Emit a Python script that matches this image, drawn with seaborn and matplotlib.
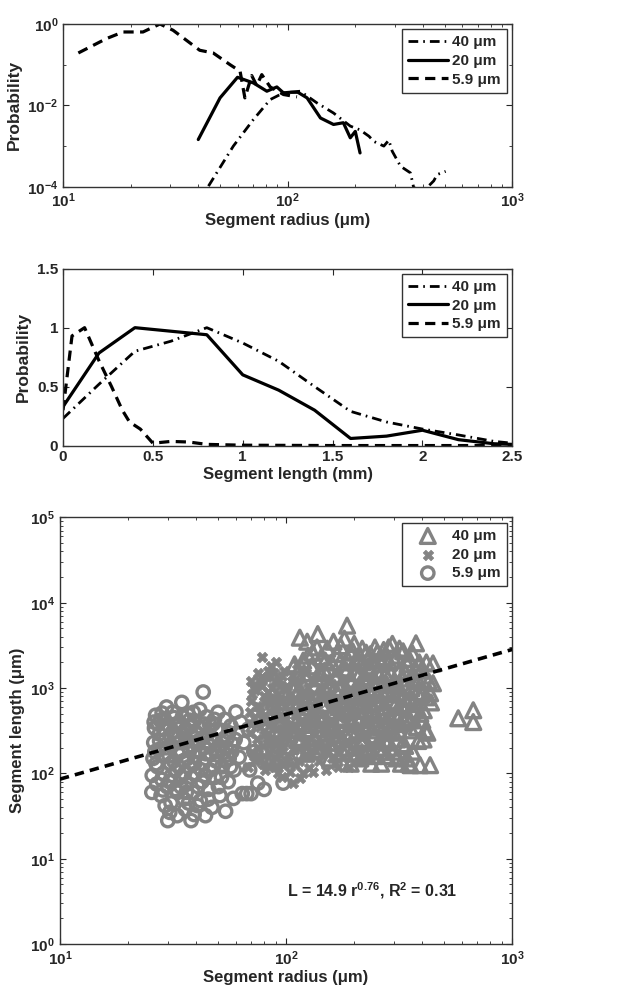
import numpy as np
import pandas as pd
import matplotlib
matplotlib.use('Agg')
import matplotlib.pyplot as plt
import matplotlib.ticker as mticker
import seaborn as sns

sns.set_style('ticks')
plt.rcParams['font.family'] = ['Liberation Sans', 'DejaVu Sans']
plt.rcParams['font.weight'] = 'bold'
plt.rcParams['axes.labelweight'] = 'bold'
plt.rcParams['mathtext.fontset'] = 'custom'
plt.rcParams['mathtext.rm'] = 'Liberation Sans:bold'
plt.rcParams['mathtext.bf'] = 'Liberation Sans:bold'
plt.rcParams['mathtext.default'] = 'bf'

GRAY = '#838383'

# ---------------------------------------------------------
# Panel A: radius distributions (log-log)
# ---------------------------------------------------------
radius_40 = [44.4, 57.3, 70.4, 83.6, 95.8, 113.8, 135, 160, 190, 210, 230, 242,
             268, 282, 292, 318, 352, 364, 404, 447, 463, 505]
prob_r_40 = [1.04e-4, 1e-3, 4.5e-3, 0.0139, 0.0203, 0.0223, 0.0115, 6.5e-3, 3.1e-3,
             2.5e-3, 1.75e-3, 1.3e-3, 1e-3, 1.4e-3, 7.5e-4, 3.2e-4, 2.2e-4, 9.5e-5,
             8e-5, 1.4e-4, 2e-4, 2.4e-4]

radius_20 = [40.0, 50.0, 59.8, 70.4, 80.8, 89.5, 95.8, 102.6, 111, 122, 140, 160,
             177, 190, 200, 210]
prob_r_20 = [1.45e-3, 0.0153, 0.049, 0.0356, 0.0223, 0.0284, 0.0203, 0.021, 0.021,
             0.0153, 4.9e-3, 3.4e-3, 3.75e-3, 1.6e-3, 2.3e-3, 6.8e-4]

radius_59 = [11.7, 15.6, 18.5, 22.7, 27.0, 30.9, 40.6, 46.6, 55.4, 61.4, 64.5, 69.2,
             72.8, 76.7, 83.6, 95.8, 110]
prob_r_59 = [0.194, 0.437, 0.636, 0.636, 1.0, 0.70, 0.226, 0.194, 0.10, 0.069, 0.0153,
             0.054, 0.0307, 0.057, 0.0284, 0.0185, 0.0162]

# ---------------------------------------------------------
# Panel B: length distributions (linear)
# ---------------------------------------------------------
length_mm = [0, 0.2, 0.4, 0.6, 0.8, 1.0, 1.2, 1.4, 1.6, 1.8, 2.0, 2.2, 2.4, 2.5]
prob_l_40 = [0.23, 0.52, 0.80, 0.885, 1.0, 0.87, 0.715, 0.50, 0.29, 0.20, 0.14, 0.09, 0.035, 0.02]
prob_l_20 = [0.33, 0.785, 1.0, 0.97, 0.94, 0.60, 0.47, 0.30, 0.06, 0.08, 0.13, 0.05, 0.015, 0.01]

length_mm_59 = [0, 0.05, 0.12, 0.2, 0.27, 0.33, 0.37, 0.43, 0.5, 0.6, 0.7, 0.8, 1.0, 1.5, 2.0, 2.5]
prob_l_59 = [0.3, 0.93, 1.0, 0.72, 0.5, 0.3, 0.2, 0.14, 0.02, 0.035, 0.03, 0.01, 0.003, 0, 0, 0]

# ---------------------------------------------------------
# Panel C: segment radius vs length scatter, (r, L) in um
# ---------------------------------------------------------
pts_40 = [(104, 210), (106, 460), (108, 950), (110, 320), (112, 1500), (113, 680), (115, 3900),
          (116, 240), (118, 1150), (119, 2100), (121, 520), (123, 170), (124, 3500), (126, 800),
          (128, 370), (130, 1800), (131, 2600), (133, 260), (135, 560), (136, 1300), (138, 4300),
          (140, 190), (141, 900), (143, 2300), (145, 420), (147, 650), (148, 1600), (150, 300),
          (152, 2900), (154, 1100), (156, 150), (157, 480), (159, 2000), (161, 760), (163, 350),
          (165, 1350), (166, 230), (168, 2500), (170, 600), (172, 1000), (174, 3100), (176, 420),
          (178, 180), (180, 1700), (182, 800), (184, 280), (186, 5400), (187, 2200), (189, 520),
          (191, 1250), (193, 130), (195, 380), (197, 2700), (199, 900), (201, 210), (203, 1500),
          (205, 650), (207, 320), (209, 2000), (211, 1100), (213, 150), (215, 450), (217, 2900),
          (219, 780), (221, 250), (223, 1350), (225, 550), (228, 180), (230, 1800), (232, 950),
          (234, 380), (236, 2500), (238, 130), (240, 650), (243, 1200), (245, 280), (247, 3000),
          (249, 480), (252, 1600), (254, 200), (256, 850), (258, 2200), (261, 350), (263, 130),
          (265, 1100), (268, 600), (270, 2800), (272, 250), (275, 1450), (278, 420), (280, 160),
          (283, 950), (286, 2000), (289, 300), (292, 700), (295, 3300), (298, 180), (301, 1200),
          (304, 500), (307, 2400), (310, 250), (313, 850), (316, 1600), (319, 380), (322, 130),
          (326, 600), (329, 2700), (333, 1050), (336, 210), (340, 450), (344, 1900), (348, 130),
          (352, 750), (355, 125), (358, 320), (362, 2550), (366, 1300), (370, 550), (375, 3350),
          (380, 900), (384, 240), (388, 2000), (391, 125), (395, 1600), (400, 420), (406, 550),
          (412, 320), (417, 2000), (417, 780), (421, 300), (427, 1200), (433, 125), (433, 870),
          (437, 680), (446, 1140), (446, 1950), (577, 443), (672, 550), (672, 400),
          (105, 150), (107, 680), (109, 1900), (111, 400), (114, 260), (117, 820), (120, 1500),
          (122, 330), (125, 2400), (127, 600), (129, 210), (132, 1100), (134, 440), (137, 3000),
          (139, 330), (142, 1500), (144, 650), (146, 240), (149, 2100), (151, 900), (153, 380),
          (155, 1700), (158, 200), (160, 540), (162, 3500), (164, 1000), (167, 280), (169, 1400),
          (171, 450), (173, 2000), (175, 700), (177, 250), (179, 1150), (181, 3800), (183, 520),
          (185, 1600), (188, 200), (190, 850), (192, 2600), (194, 300), (196, 1200), (198, 540),
          (200, 3300), (202, 170), (204, 900), (206, 2300), (208, 420), (210, 640), (212, 1500),
          (214, 240), (216, 1000), (218, 2000), (220, 350), (222, 700), (224, 160), (226, 2600),
          (229, 1200), (231, 480), (233, 200), (235, 1600), (237, 830), (239, 320), (241, 2100),
          (244, 550), (246, 160), (248, 1000), (251, 380), (253, 2600), (255, 680), (257, 240),
          (259, 1400), (262, 500), (264, 1900), (266, 180), (269, 850), (271, 350), (274, 2300),
          (276, 600), (279, 1100), (282, 230), (284, 3000), (287, 470), (290, 1500), (293, 200),
          (296, 900), (299, 380), (302, 2100), (305, 650), (308, 150), (311, 1100), (314, 320),
          (317, 2900), (320, 500), (324, 1300), (327, 220), (331, 800), (334, 400), (338, 1500),
          (342, 150), (346, 650), (350, 2200), (354, 420), (358, 1000), (363, 180), (368, 700),
          (372, 1700), (378, 350), (385, 1200), (392, 500), (398, 850), (405, 250), (410, 1400)]

pts_20 = [(68, 120), (69, 300), (70, 700), (70, 1200), (71, 180), (72, 450), (73, 950), (74, 250),
          (75, 1500), (76, 150), (76, 600), (77, 350), (78, 2300), (78, 1050), (79, 210), (80, 800),
          (81, 110), (81, 480), (82, 1350), (83, 290), (84, 650), (84, 120), (85, 170), (86, 1800),
          (86, 400), (87, 1000), (88, 240), (89, 120), (90, 560), (90, 2000), (91, 330), (92, 850),
          (92, 100), (93, 1250), (94, 190), (95, 460), (96, 130), (96, 90), (97, 700), (98, 1600),
          (99, 270), (100, 380), (101, 1050), (102, 160), (103, 560), (104, 105), (105, 850),
          (106, 230), (107, 77), (107, 1400), (108, 330), (109, 480), (110, 125), (111, 700),
          (112, 1900), (113, 200), (114, 1100), (115, 88), (116, 400), (117, 280), (118, 600),
          (119, 100), (120, 900), (121, 160), (122, 1500), (124, 240), (125, 350), (126, 115),
          (127, 520), (128, 800), (130, 190), (132, 103), (133, 1200), (134, 290), (136, 440),
          (138, 650), (140, 140), (142, 230), (144, 950), (146, 340), (148, 500), (150, 110),
          (153, 180), (156, 720), (158, 260), (161, 400), (164, 130), (167, 580), (170, 200),
          (174, 300), (178, 150), (182, 450), (186, 240), (190, 120), (195, 350), (200, 180),
          (205, 500), (210, 140), (216, 260), (222, 200), (230, 150),
          (69, 520), (71, 850), (73, 140), (74, 380), (77, 520), (79, 1300), (80, 160),
          (82, 260), (83, 900), (85, 540), (87, 200), (88, 1500), (89, 720), (91, 150),
          (93, 420), (94, 1050), (95, 230), (97, 320), (98, 130), (99, 620),
          (70, 380), (72, 160), (72, 1000), (74, 620), (75, 200), (76, 1250), (78, 440),
          (79, 130), (80, 280), (81, 680), (83, 1600), (84, 360), (85, 220), (86, 760),
          (87, 140), (88, 470), (89, 1200), (90, 260), (91, 620), (93, 170), (94, 750),
          (95, 330), (96, 1400), (97, 210), (99, 480), (100, 950), (101, 140), (103, 300),
          (104, 680), (106, 1200), (108, 190), (110, 560), (112, 280), (114, 140), (116, 820),
          (118, 420), (120, 230), (123, 650), (125, 1000), (128, 160), (131, 370), (134, 560),
          (137, 230), (140, 800), (145, 180), (150, 360), (155, 240), (160, 150), (165, 300),
          (170, 120)]

pts_59 = [(25.5, 60), (25.6, 95), (25.8, 150), (26, 230), (26.2, 340), (26.5, 480), (26.8, 75),
          (27, 120), (27.3, 190), (27.5, 290), (27.8, 420), (28, 55), (28.3, 510), (28.6, 100),
          (29, 160), (29.3, 250), (29.6, 600), (30, 28), (30.2, 370), (30.5, 80), (30.8, 130),
          (31, 45), (31.3, 210), (31.6, 310), (32, 450), (32.3, 65), (32.6, 110), (33, 32),
          (33.3, 170), (33.6, 270), (34, 390), (34.3, 90), (34.6, 680), (35, 140), (35.3, 50),
          (35.7, 230), (36, 330), (36.4, 75), (36.8, 490), (37.2, 120), (37.6, 190), (38, 28),
          (38.4, 280), (38.8, 60), (39.2, 410), (39.6, 100), (40, 160), (40.5, 42), (41, 240),
          (41.5, 560), (42, 340), (42.5, 80), (43, 900), (43, 130), (43.5, 200), (44, 32),
          (44.5, 460), (45, 290), (45.5, 65), (46, 110), (46.5, 170), (47, 40), (47.5, 380),
          (48, 250), (48.5, 90), (49, 140), (50, 520), (50.5, 210), (51, 55), (51.5, 320),
          (52, 120), (53, 175), (53.5, 430), (54, 36), (55, 260), (55.5, 80), (56, 150),
          (57, 360), (58, 220), (58.5, 51), (59, 110), (60, 525), (61, 300), (62, 155), (63, 400),
          (64, 58), (65, 230), (67, 58), (68, 330), (69, 110), (70, 58), (72, 180), (75, 77),
          (80, 65), (85, 420), (90, 280), (97, 77),
          (26.3, 180), (27.2, 380), (29.8, 70), (31.8, 140), (33.9, 230), (35.5, 100),
          (37.8, 350), (39.8, 230), (42.2, 110), (44.2, 170), (46.8, 260), (49.3, 330),
          (51.8, 90), (54.5, 200), (56.8, 120), (33.2, 60), (37, 45), (40.8, 70), (45.2, 50),
          (29.2, 42),
          (26.6, 130), (27.6, 240), (28.2, 85), (28.8, 330), (29.5, 200), (30.4, 160),
          (31.2, 95), (32.2, 260), (32.8, 380), (33.5, 120), (34.5, 180), (35.2, 290),
          (36.2, 60), (36.6, 150), (37.4, 420), (38.2, 90), (38.6, 210), (39.4, 130),
          (40.2, 300), (41.2, 185), (42.8, 260), (43.8, 95), (45.8, 380), (46.2, 210),
          (47.8, 120), (48.8, 180), (50.2, 70), (52.5, 250), (53.8, 140), (55.8, 300),
          (57.5, 180), (59.5, 250), (26.1, 400), (28.9, 440), (31.5, 520), (34.8, 460),
          (38.9, 520), (43.2, 380), (48.2, 430), (30.6, 35), (35.8, 38), (41.8, 48),
          (39.2, 33), (34.2, 70), (28.5, 64)]

fit_coef, fit_exp = 14.9, 0.76
fit_r = np.array([10.0, 1000.0])
fit_len = fit_coef * fit_r ** fit_exp

labels = ['40 \u03bcm', '20 \u03bcm', '5.9 \u03bcm']

fig = plt.figure(figsize=(6.24, 9.99), dpi=100)
ax1 = fig.add_axes([0.101, 0.813, 0.72, 0.163])
ax2 = fig.add_axes([0.101, 0.554, 0.72, 0.177])
ax3 = fig.add_axes([0.096, 0.055, 0.725, 0.427])

dash_dot = (0, (3.5, 1.8, 0.6, 1.8))
dashed = (0, (3.2, 2.0))

# --- panel A
sns.lineplot(x=radius_40, y=prob_r_40, ax=ax1, color='k', lw=2.0, linestyle=dash_dot, label=labels[0], sort=False)
sns.lineplot(x=radius_20, y=prob_r_20, ax=ax1, color='k', lw=2.3, linestyle='-', label=labels[1], sort=False)
sns.lineplot(x=radius_59, y=prob_r_59, ax=ax1, color='k', lw=2.3, linestyle=dashed, label=labels[2], sort=False)
ax1.set_xscale('log')
ax1.set_yscale('log')
ax1.set_xlim(10, 1000)
ax1.set_ylim(1e-4, 1)
ax1.set_yticks([1e-4, 1e-2, 1])
ax1.yaxis.set_minor_locator(mticker.FixedLocator([1e-3, 1e-1]))
ax1.yaxis.set_minor_formatter(mticker.NullFormatter())
ax1.set_xlabel('Segment radius (\u03bcm)', fontsize=12, fontweight='bold', labelpad=2)
ax1.set_ylabel('Probability', fontsize=12.5, fontweight='bold', labelpad=4)

# --- panel B
sns.lineplot(x=length_mm, y=prob_l_40, ax=ax2, color='k', lw=2.0, linestyle=dash_dot, label=labels[0], sort=False)
sns.lineplot(x=length_mm, y=prob_l_20, ax=ax2, color='k', lw=2.3, linestyle='-', label=labels[1], sort=False)
sns.lineplot(x=length_mm_59, y=prob_l_59, ax=ax2, color='k', lw=2.3, linestyle=dashed, label=labels[2], sort=False)
ax2.set_xlim(0, 2.5)
ax2.set_ylim(0, 1.5)
ax2.set_xticks([0, 0.5, 1, 1.5, 2, 2.5])
ax2.set_xticklabels(['0', '0.5', '1', '1.5', '2', '2.5'])
ax2.set_yticks([0, 0.5, 1, 1.5])
ax2.set_yticklabels(['0', '0.5', '1', '1.5'])
ax2.set_xlabel('Segment length (mm)', fontsize=12, fontweight='bold', labelpad=2)
ax2.set_ylabel('Probability', fontsize=12.5, fontweight='bold', labelpad=4)

# --- panel C
df40 = pd.DataFrame(pts_40, columns=['r', 'L'])
df20 = pd.DataFrame(pts_20, columns=['r', 'L'])
df59 = pd.DataFrame(pts_59, columns=['r', 'L'])
sns.scatterplot(data=df40, x='r', y='L', ax=ax3, marker='^', s=115, color=GRAY,
                facecolor='none', edgecolor=GRAY, linewidth=2.4, label=labels[0])
sns.scatterplot(data=df20, x='r', y='L', ax=ax3, marker='X', s=55, color=GRAY,
                edgecolor=GRAY, linewidth=0.6, label=labels[1])
sns.scatterplot(data=df59, x='r', y='L', ax=ax3, marker='o', s=80, color=GRAY,
                facecolor='none', edgecolor=GRAY, linewidth=2.4, label=labels[2])
ax3.plot(fit_r, fit_len, color='k', lw=2.6, linestyle=(0, (2.6, 1.7)), zorder=5)
ax3.set_xscale('log')
ax3.set_yscale('log')
ax3.set_xlim(10, 1000)
ax3.set_ylim(1, 1e5)
ax3.yaxis.set_major_locator(mticker.LogLocator(base=10, numticks=10))
ax3.yaxis.set_minor_locator(mticker.LogLocator(base=10, subs=np.arange(2, 10), numticks=20))
ax3.yaxis.set_minor_formatter(mticker.NullFormatter())
ax3.set_xlabel('Segment radius (\u03bcm)', fontsize=12, fontweight='bold', labelpad=2)
ax3.set_ylabel('Segment length (\u03bcm)', fontsize=12, fontweight='bold', labelpad=4)
ax3.text(0.69, 0.126, 'L = 14.9 r$^{0.76}$, R$^{2}$ = 0.31', transform=ax3.transAxes,
         ha='center', va='center', fontsize=11.5, fontweight='bold')

for ax in (ax1, ax2, ax3):
    ax.tick_params(which='both', direction='in', top=True, right=True, labelsize=11)
    ax.tick_params(which='major', length=4)
    ax.tick_params(which='minor', length=2)
    for lab in ax.get_xticklabels() + ax.get_yticklabels():
        lab.set_fontweight('bold')
    for sp in ax.spines.values():
        sp.set_linewidth(1.0)
        sp.set_color('#333333')
    leg = ax.legend(loc='upper right', fancybox=False, framealpha=1, edgecolor='#333333',
                    fontsize=11, handlelength=2.6, borderaxespad=0.35, labelspacing=0.3,
                    handletextpad=0.3, borderpad=0.4)
    leg.get_frame().set_linewidth(1.0)
    for t in leg.get_texts():
        t.set_fontweight('bold')

fig.savefig('out.png', dpi=100)
